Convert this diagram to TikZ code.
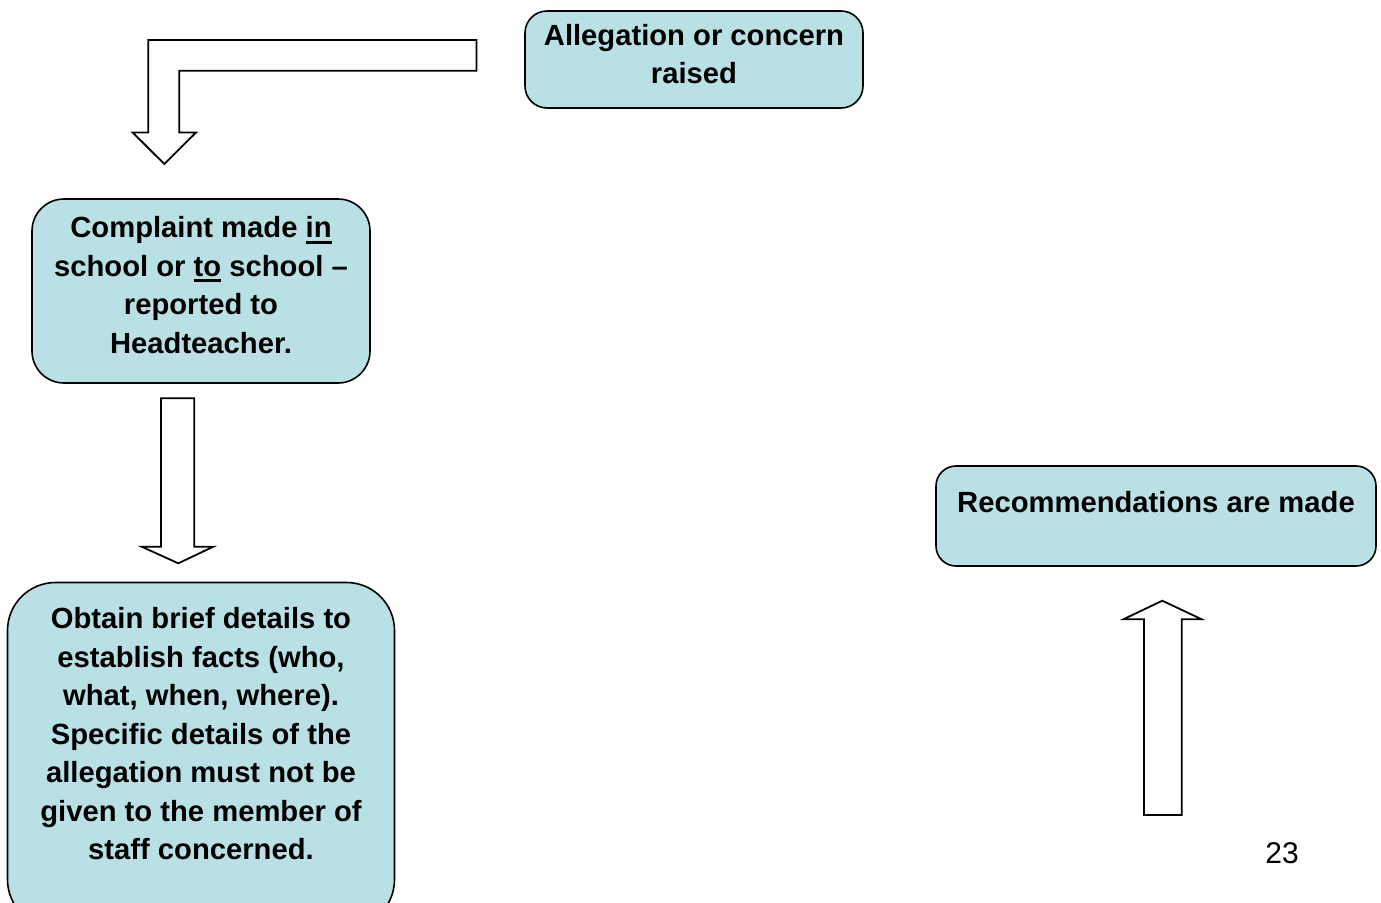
\documentclass[tikz,border=0pt]{standalone}
\usepackage{fontspec}
\setmainfont{Liberation Sans}
\newcommand\myul[1]{\setbox0\hbox{#1}\rlap{\rule[-6.2pt]{\wd0}{3pt}}\box0\relax}
\definecolor{boxfill}{RGB}{185,224,228}
\begin{document}
\begin{tikzpicture}[x=1pt,y=-1pt,
  box/.style={draw, line width=1.6pt, fill=boxfill, inner sep=0pt},
  txt/.style={font=\fontsize{29.2}{38.5}\selectfont\bfseries, align=center, inner sep=0pt},
  blockarrow/.style={draw, line width=1.8pt, fill=white, line join=miter}]
\useasboundingbox (0,0) rectangle (1381,902);
% boxes
\node[box, rounded corners=22pt, minimum width=338pt, minimum height=97pt] (b1) at (694,59.5) {};
\node[txt] (t1) at (694,54) {Allegation or concern\\raised};
\node[box, rounded corners=32pt, minimum width=338pt, minimum height=184pt] (b2) at (201,291) {};
\node[txt] (t2) at (201,285) {Complaint made \myul{in}\\school or \myul{to} school --\\reported to\\Headteacher.};
\node[box, rounded corners=48pt, minimum width=387pt, minimum height=345pt] (b3) at (201,755) {};
\node[txt] (t3) at (201,734) {Obtain brief details to\\establish facts (who,\\what, when, where).\\Specific details of the\\allegation must not be\\given to the member of\\staff concerned.};
\node[box, rounded corners=20pt, minimum width=440pt, minimum height=100pt] (b4) at (1156,516) {};
\node[txt] (t4) at (1156,502) {Recommendations are made};
% page number
\node[font=\fontsize{30}{36}\selectfont, inner sep=0pt] (pg) at (1282,853) {23};
% bent block arrow
\draw[blockarrow] (476.5,40) -- (148.3,40) -- (148.3,132.5) -- (132.7,132.5) -- (164.3,164) -- (196,132.5) -- (179.3,132.5) -- (179.3,70.7) -- (476.5,70.7) -- cycle;
% down block arrow
\draw[blockarrow] (161,398.3) -- (194.3,398.3) -- (194.3,546.7) -- (213.3,546.7) -- (178.3,563.3) -- (141.7,546.7) -- (161,546.7) -- cycle;
% up block arrow
\draw[blockarrow] (1144,815) -- (1181.7,815) -- (1181.7,619.3) -- (1201.7,619.3) -- (1162.3,600.7) -- (1123.3,619.3) -- (1144,619.3) -- cycle;
\end{tikzpicture}
\end{document}
